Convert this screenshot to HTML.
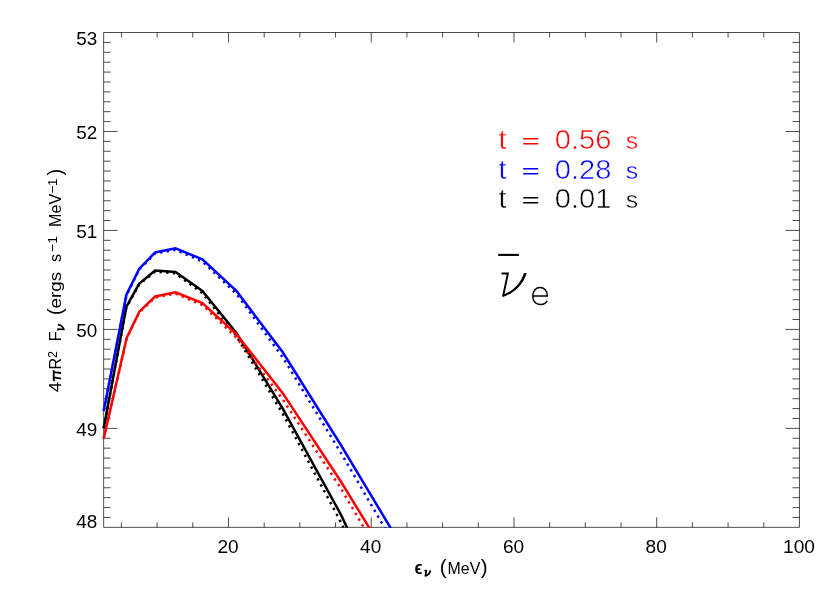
<!DOCTYPE html>
<html><head><meta charset="utf-8"><title>plot</title>
<style>
html,body{margin:0;padding:0;background:#fff;}
svg{display:block;will-change:transform;font-family:"Liberation Sans",sans-serif;}
</style></head><body>
<svg width="830" height="593" viewBox="0 0 830 593">
<defs><clipPath id="c"><rect x="99.65" y="32.5" width="699.8000000000001" height="495.35"/></clipPath></defs>
<rect width="830" height="593" fill="#fff"/>
<path d="M103.65 32.5H799.45M799.45 32.5V527.35M799.45 527.35H103.65M103.65 527.35V32.5" fill="none" stroke="#000" stroke-width="0.7"/>
<path d="M121.44 527.35v-5M121.44 32.5v5M157.12 527.35v-5M157.12 32.5v5M192.81 527.35v-5M192.81 32.5v5M228.49 527.35v-10M228.49 32.5v10M264.18 527.35v-5M264.18 32.5v5M299.86 527.35v-5M299.86 32.5v5M335.55 527.35v-5M335.55 32.5v5M371.23 527.35v-10M371.23 32.5v10M406.92 527.35v-5M406.92 32.5v5M442.6 527.35v-5M442.6 32.5v5M478.29 527.35v-5M478.29 32.5v5M513.97 527.35v-10M513.97 32.5v10M549.66 527.35v-5M549.66 32.5v5M585.34 527.35v-5M585.34 32.5v5M621.03 527.35v-5M621.03 32.5v5M656.71 527.35v-10M656.71 32.5v10M692.4 527.35v-5M692.4 32.5v5M728.08 527.35v-5M728.08 32.5v5M763.77 527.35v-5M763.77 32.5v5M103.65 517.45h7M799.45 517.45h-7M103.65 507.56h7M799.45 507.56h-7M103.65 497.66h7M799.45 497.66h-7M103.65 487.76h7M799.45 487.76h-7M103.65 477.87h7M799.45 477.87h-7M103.65 467.97h7M799.45 467.97h-7M103.65 458.07h7M799.45 458.07h-7M103.65 448.17h7M799.45 448.17h-7M103.65 438.28h7M799.45 438.28h-7M103.65 428.38h14M799.45 428.38h-14M103.65 418.48h7M799.45 418.48h-7M103.65 408.59h7M799.45 408.59h-7M103.65 398.69h7M799.45 398.69h-7M103.65 388.79h7M799.45 388.79h-7M103.65 378.89h7M799.45 378.89h-7M103.65 369.0h7M799.45 369.0h-7M103.65 359.1h7M799.45 359.1h-7M103.65 349.2h7M799.45 349.2h-7M103.65 339.31h7M799.45 339.31h-7M103.65 329.41h14M799.45 329.41h-14M103.65 319.51h7M799.45 319.51h-7M103.65 309.62h7M799.45 309.62h-7M103.65 299.72h7M799.45 299.72h-7M103.65 289.82h7M799.45 289.82h-7M103.65 279.93h7M799.45 279.93h-7M103.65 270.03h7M799.45 270.03h-7M103.65 260.13h7M799.45 260.13h-7M103.65 250.23h7M799.45 250.23h-7M103.65 240.34h7M799.45 240.34h-7M103.65 230.44h14M799.45 230.44h-14M103.65 220.54h7M799.45 220.54h-7M103.65 210.65h7M799.45 210.65h-7M103.65 200.75h7M799.45 200.75h-7M103.65 190.85h7M799.45 190.85h-7M103.65 180.96h7M799.45 180.96h-7M103.65 171.06h7M799.45 171.06h-7M103.65 161.16h7M799.45 161.16h-7M103.65 151.26h7M799.45 151.26h-7M103.65 141.37h7M799.45 141.37h-7M103.65 131.47h14M799.45 131.47h-14M103.65 121.57h7M799.45 121.57h-7M103.65 111.68h7M799.45 111.68h-7M103.65 101.78h7M799.45 101.78h-7M103.65 91.88h7M799.45 91.88h-7M103.65 81.99h7M799.45 81.99h-7M103.65 72.09h7M799.45 72.09h-7M103.65 62.19h7M799.45 62.19h-7M103.65 52.29h7M799.45 52.29h-7M103.65 42.4h7M799.45 42.4h-7" stroke="#000" stroke-width="0.7" fill="none"/>
<g clip-path="url(#c)">
<polyline points="103.7,428.3 126.4,307.5 139.3,284.3 155.1,271.6 175.5,273.4 202.4,293.2 236.6,336.5 282.6,413.5 341.5,523.2 343.3,527.7" fill="none" stroke="#000" stroke-width="2.5" stroke-linejoin="miter" stroke-dasharray="2.3 4.4"/>
<polyline points="103.7,428.3 126.4,306.7 139.3,283.5 155.1,270.6 175.5,271.9 202.4,291.0 236.6,333.2 282.6,408.3 341.5,515.7 347.2,528.1" fill="none" stroke="#000" stroke-width="2.5" stroke-linejoin="miter"/>
<polyline points="103.7,410.9 126.4,295.5 139.3,269.5 155.1,253.5 175.5,249.8 202.4,261.5 236.6,294.0 282.6,357.2 341.5,453.8 386.6,531.2" fill="none" stroke="#0000ff" stroke-width="2.5" stroke-linejoin="miter" stroke-dasharray="2.3 4.4"/>
<polyline points="103.7,410.9 126.4,294.7 139.3,268.7 155.1,252.4 175.5,248.3 202.4,259.4 236.6,291.2 282.6,352.0 341.5,446.0 392.8,531.6" fill="none" stroke="#0000ff" stroke-width="2.5" stroke-linejoin="miter"/>
<polyline points="103.7,438.5 126.7,338.6 139.3,312.5 155.1,297.5 175.5,293.6 202.4,305.0 236.6,337.9 282.6,399.2 341.5,489.4 364.9,529.4" fill="none" stroke="#ff0000" stroke-width="2.5" stroke-linejoin="miter" stroke-dasharray="2.3 4.4"/>
<polyline points="103.7,438.5 126.7,337.8 139.3,311.7 155.1,296.5 175.5,292.3 202.4,303.0 236.6,334.3 282.6,392.9 341.5,482.5 370.5,529.8" fill="none" stroke="#ff0000" stroke-width="2.5" stroke-linejoin="miter"/>
</g>
<g>
<text x="228.0" y="553" font-size="17.8" text-anchor="middle" textLength="21.2" lengthAdjust="spacingAndGlyphs">20</text>
<text x="370.7" y="553" font-size="17.8" text-anchor="middle" textLength="21.2" lengthAdjust="spacingAndGlyphs">40</text>
<text x="513.5" y="553" font-size="17.8" text-anchor="middle" textLength="21.2" lengthAdjust="spacingAndGlyphs">60</text>
<text x="656.2" y="553" font-size="17.8" text-anchor="middle" textLength="21.2" lengthAdjust="spacingAndGlyphs">80</text>
<text x="783" y="553" font-size="17.8" textLength="32" lengthAdjust="spacingAndGlyphs">100</text>
<text x="97.3" y="45" font-size="17.8" text-anchor="end" textLength="21" lengthAdjust="spacingAndGlyphs">53</text>
<text x="97.3" y="139" font-size="17.8" text-anchor="end" textLength="21" lengthAdjust="spacingAndGlyphs">52</text>
<text x="97.3" y="238" font-size="17.8" text-anchor="end" textLength="21" lengthAdjust="spacingAndGlyphs">51</text>
<text x="97.3" y="337" font-size="17.8" text-anchor="end" textLength="21" lengthAdjust="spacingAndGlyphs">50</text>
<text x="97.3" y="436" font-size="17.8" text-anchor="end" textLength="21" lengthAdjust="spacingAndGlyphs">49</text>
<text x="97.3" y="528" font-size="17.8" text-anchor="end" textLength="21" lengthAdjust="spacingAndGlyphs">48</text>
</g>
<g fill="#ff0000" stroke="#fff" stroke-width="0.55" paint-order="fill stroke" font-size="27.3"><text x="498.6" y="149" textLength="8" lengthAdjust="spacingAndGlyphs">t</text><text x="554.8" y="149" textLength="56.6" lengthAdjust="spacingAndGlyphs">0.56</text><text x="625.7" y="149" font-size="24.8" stroke-width="0.45">s</text></g><path d="M523.2 138.8H538.2M523.2 143.7H538.2" stroke="#ff0000" stroke-width="1.5" fill="none"/>
<g fill="#0000ff" stroke="#fff" stroke-width="0.55" paint-order="fill stroke" font-size="27.3"><text x="498.6" y="179" textLength="8" lengthAdjust="spacingAndGlyphs">t</text><text x="554.8" y="179" textLength="56.6" lengthAdjust="spacingAndGlyphs">0.28</text><text x="625.7" y="179" font-size="24.8" stroke-width="0.45">s</text></g><path d="M523.2 168.8H538.2M523.2 173.7H538.2" stroke="#0000ff" stroke-width="1.5" fill="none"/>
<g fill="#000" stroke="#fff" stroke-width="0.55" paint-order="fill stroke" font-size="27.3"><text x="498.6" y="208" textLength="8" lengthAdjust="spacingAndGlyphs">t</text><text x="554.8" y="208" textLength="56.6" lengthAdjust="spacingAndGlyphs">0.01</text><text x="625.7" y="208" font-size="24.8" stroke-width="0.45">s</text></g><path d="M523.2 197.8H538.2M523.2 202.7H538.2" stroke="#000" stroke-width="1.5" fill="none"/>
<path d="M498.2 254.9H518.9" stroke="#000" stroke-width="2.1" fill="none"/>
<path d="M501.6 273.5H507.9L503.1 296.2" stroke="#000" stroke-width="1.9" fill="none" stroke-linejoin="miter"/><path d="M502.2 297.1C510.6 294.8 522.2 287.6 526.8 273H524C520 285.6 510 292.4 503.2 294.8Z" fill="#000"/>
<path d="M532.8 295.9H547.3C547.3 284.7 532.8 284.7 532.8 296C532.8 306.3 544 306 547.2 300.8" stroke="#000" stroke-width="1.5" fill="none"/>
<text x="414.4" y="574" font-size="17.6" font-weight="bold" textLength="7.9" lengthAdjust="spacingAndGlyphs">ϵ</text>
<path d="M424.5 570.7H426.3L425.4 576C428 575 430 573.2 430.4 570.4" stroke="#000" stroke-width="1.7" fill="none" stroke-linejoin="round"/>
<text x="439.65" y="574" font-size="20.5">(</text><text x="447.6" y="574" font-size="16" textLength="32.7" lengthAdjust="spacingAndGlyphs">MeV</text><text x="480.7" y="574" font-size="20.5">)</text>
<g transform="translate(61,392) rotate(-90)"><text x="-0.3" y="0" font-size="16" textLength="10.5" lengthAdjust="spacingAndGlyphs">4</text><path d="M11.2 -6.3L12.2 -7.3H21.8M14.7 -7.3L13.3 0M19.8 -7.3L19 0" stroke="#000" stroke-width="1.8" fill="none" stroke-linejoin="round"/><text x="22.5" y="0" font-size="16" textLength="11.6" lengthAdjust="spacingAndGlyphs">R</text><text x="34" y="-4.5" font-size="13.3" textLength="7" lengthAdjust="spacingAndGlyphs">2</text><text x="50.7" y="0" font-size="16">F</text><path d="M61.6 -3.1H63L62.5 3C64.9 2 67 0 67.4 -3.1" stroke="#000" stroke-width="1.6" fill="none" stroke-linejoin="round"/><text x="77" y="1.2" font-size="20">(</text><text x="83.6" y="0" font-size="16" textLength="36.7" lengthAdjust="spacingAndGlyphs">ergs</text><text x="130.1" y="0" font-size="16" textLength="8" lengthAdjust="spacingAndGlyphs">s</text><text x="140" y="-4.5" font-size="13.3" textLength="8.2" lengthAdjust="spacingAndGlyphs">−</text><text x="148.6" y="-4.5" font-size="13.3">1</text><text x="165.1" y="0" font-size="16" textLength="33" lengthAdjust="spacingAndGlyphs">MeV</text><text x="198.6" y="-4.5" font-size="13.3" textLength="8.2" lengthAdjust="spacingAndGlyphs">−</text><text x="206" y="-4.5" font-size="13.3">1</text><text x="216.4" y="1.2" font-size="20">)</text></g>
</svg>
</body></html>
